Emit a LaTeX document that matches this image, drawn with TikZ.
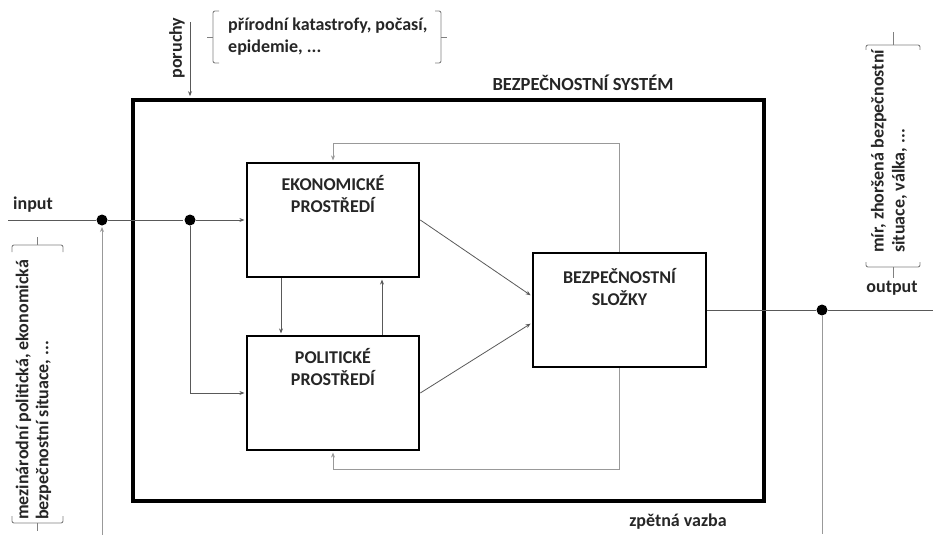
\documentclass[tikz,border=0pt]{standalone}
\usepackage{fontspec}
\setmainfont{Carlito}
\usetikzlibrary{arrows.meta}

\begin{document}
\begin{tikzpicture}[
  x=1pt, y=-1pt,
  every node/.style={font=\bfseries\fontsize{18}{22}\selectfont, text=black!85, inner sep=0pt},
  >={Stealth[length=5pt,width=4pt]}
]
\tikzstyle{blok}=[draw=black, line width=2.6pt, minimum width=172pt, minimum height=114pt]
\tikzstyle{ramec}=[draw=black, line width=3.8pt, minimum width=631pt, minimum height=401pt]
\tikzstyle{uzel}=[circle, fill=black, minimum size=11pt]
\tikzstyle{spoj}=[draw=black!65, line width=0.8pt, shorten >=1.3pt]
\tikzstyle{zpet}=[draw=black!40, line width=1pt, shorten >=1.3pt]
\tikzstyle{zavorka}=[draw=black!50, line width=0.9pt, rounded corners=2pt]
\tikzstyle{napis}=[anchor=north, align=center]

\useasboundingbox (0,0) rectangle (934,535);

% system a jeho bloky
\node[ramec] (system) at (448.5,300.5) {};
\node[font=\bfseries\fontsize{18.5}{22}\selectfont] (titul) at (583,83) {BEZPEČNOSTNÍ SYSTÉM};
\node[blok, label={[napis, yshift=-13pt]north:EKONOMICKÉ\\PROSTŘEDÍ}] (ekon) at (333,220) {};
\node[blok, label={[napis, yshift=-13pt]north:POLITICKÉ\\PROSTŘEDÍ}] (polit) at (333,393) {};
\node[blok, minimum width=173pt, label={[napis, yshift=-16pt]north:BEZPEČNOSTNÍ\\SLOŽKY}] (bezp) at (619.5,310) {};

% uzly
\node[uzel] (u1) at (102,220) {};
\node[uzel] (u2) at (190,220) {};
\node[uzel] (u3) at (822,310) {};

\coordinate (vstup) at (8,220);
\coordinate (vystup) at (934,310);
\coordinate (dole1) at (102,535);
\coordinate (dole2) at (822,535);
\coordinate (por) at (190,22);

% spoje
\draw[spoj] (vstup) -- (u1) -- (u2);
\draw[spoj,->] (u2) -- (ekon);
\draw[spoj,->] (u2) |- (polit);
\draw[spoj,->] ([xshift=-52pt]ekon.south) -- ([xshift=-52pt]polit.north);
\draw[spoj,->] ([xshift=49pt]polit.north) -- ([xshift=49pt]ekon.south);
\draw[spoj,->] (ekon.east) -- ([yshift=14pt]bezp.west);
\draw[spoj,->] (polit.east) -- ([yshift=-13pt]bezp.west);
\draw[zpet,->] (bezp.north) -- ++(0,-108) -| (ekon.north);
\draw[zpet,->] (bezp.south) -- ++(0,101) -| (polit.south);
\draw[spoj] (bezp) -- (u3) -- (vystup);
\draw[zpet] (u3) -- (dole2);
\draw[zpet,->] (dole1) -- (u1);
\draw[spoj,->, shorten >=1.9pt] (por) -- (por |- system.north);

% popisy
\node (input) at (33,205) {input};
\node (output) at (892,288) {output};
\node (zpetna) at (678,522) {zpětná vazba};
\node[rotate=90] (poruchy) at (177,48) {poruchy};
\node[align=left, anchor=west] (prirodni) at (228,37) {přírodní katastrofy, počasí,\\epidemie, ...};
\node[rotate=90, align=left, anchor=west, font=\bfseries\fontsize{18}{20}\selectfont] (mezinar) at (33.5,520) {mezinárodní politická, ekonomická\\bezpečnostní situace, ...};
\node[rotate=90, align=left, anchor=west, font=\bfseries\fontsize{18}{21}\selectfont] (mir) at (889,253) {mír, zhoršená bezpečnostní\\situace, válka, ...};

% zavorky
\draw[zavorka] (219,11) -- (213,11) -- (213,63) -- (219,63);
\draw[zavorka] (213,37) -- (207,37);
\draw[zavorka] (435,11) -- (441,11) -- (441,63) -- (435,63);
\draw[zavorka] (441,37) -- (447,37);
\draw[zavorka] (12,252) -- (12,245) -- (63,245) -- (63,252);
\draw[zavorka] (37,245) -- (37,237);
\draw[zavorka] (12,516) -- (12,523) -- (63,523) -- (63,516);
\draw[zavorka] (37,523) -- (37,531);
\draw[zavorka] (866,50) -- (866,45) -- (920,45) -- (920,50);
\draw[zavorka] (893,45) -- (893,32);
\draw[zavorka] (866,262) -- (866,267) -- (920,267) -- (920,262);
\draw[zavorka] (893,267) -- (893,278);
\end{tikzpicture}
\end{document}
